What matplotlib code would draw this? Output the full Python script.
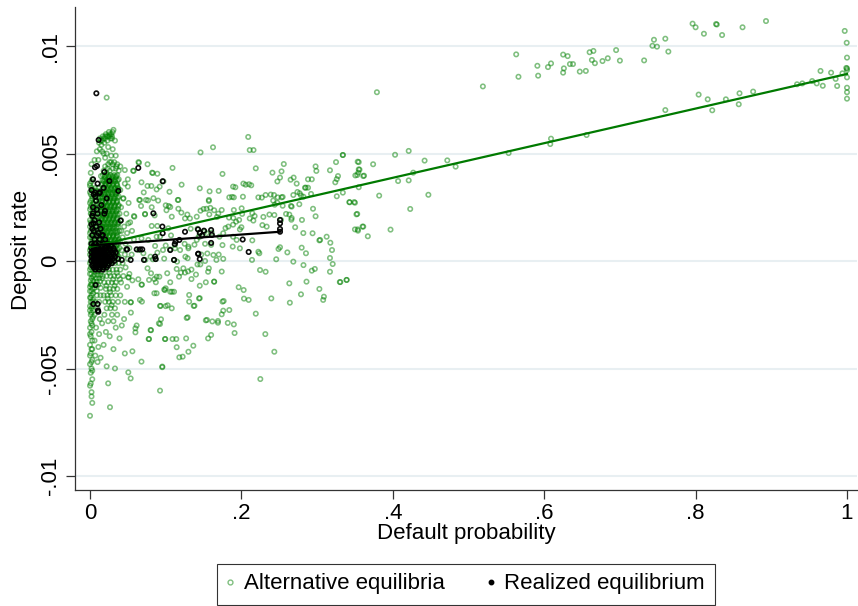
import matplotlib
matplotlib.use("Agg")
import matplotlib.pyplot as plt
from matplotlib.lines import Line2D

plt.rcParams['font.family'] = ['Liberation Sans', 'DejaVu Sans']

# ---------------- data ----------------
x_ticks = [0, 0.2, 0.4, 0.6, 0.8, 1.0]
x_tick_labels = ['0', '.2', '.4', '.6', '.8', '1']
y_ticks = [-0.01, -0.005, 0, 0.005, 0.01]
y_tick_labels = ['-.01', '-.005', '0', '.005', '.01']

# Alternative equilibria, right part (x > 0.33)
alt_right = [
    (0.563, 0.00961), (0.566, 0.00857), (0.591, 0.00908), (0.592, 0.00862), (0.605, 0.00902),
    (0.609, 0.00919), (0.625, 0.00960), (0.631, 0.00953), (0.626, 0.00896), (0.625, 0.00876),
    (0.634, 0.00916), (0.638, 0.00916), (0.647, 0.00881), (0.655, 0.00884), (0.660, 0.00971),
    (0.665, 0.00977), (0.663, 0.00935), (0.667, 0.00920), (0.677, 0.00930), (0.684, 0.00943),
    (0.695, 0.00981), (0.700, 0.00932), (0.732, 0.00933), (0.743, 0.01001), (0.745, 0.01029),
    (0.749, 0.00997), (0.760, 0.01034), (0.764, 0.00974), (0.796, 0.01104), (0.800, 0.01087),
    (0.811, 0.01057), (0.827, 0.01102), (0.828, 0.01100), (0.835, 0.01051), (0.862, 0.01087),
    (0.893, 0.01116), (0.997, 0.01070), (0.9996, 0.01015), (1.0, 0.00946), (1.0, 0.00896),
    (0.999, 0.00898), (1.0, 0.00888), (1.0, 0.00854), (1.0, 0.00806), (1.0, 0.00785),
    (1.0, 0.00755), (0.760, 0.00702), (0.804, 0.00774), (0.816, 0.00752), (0.822, 0.00701),
    (0.840, 0.00752), (0.857, 0.00729), (0.858, 0.00780), (0.876, 0.00788), (0.934, 0.00822),
    (0.941, 0.00826), (0.954, 0.00837), (0.960, 0.00826), (0.965, 0.00884), (0.968, 0.00815),
    (0.979, 0.00876), (0.985, 0.00847), (0.987, 0.00814), (0.994, 0.00873), (0.519, 0.00812),
    (0.379, 0.00785), (0.553, 0.00502), (0.608, 0.00544), (0.609, 0.00569), (0.656, 0.00586),
    (0.334, 0.00493), (0.403, 0.00494), (0.421, 0.00512), (0.355, 0.00460), (0.374, 0.00450),
    (0.442, 0.00467), (0.472, 0.00468), (0.483, 0.00439), (0.356, 0.00425), (0.353, 0.00400),
    (0.362, 0.00397), (0.427, 0.00411), (0.407, 0.00372), (0.421, 0.00375), (0.355, 0.00343),
    (0.334, 0.00318), (0.382, 0.00304), (0.447, 0.00308), (0.343, 0.00273), (0.350, 0.00271),
    (0.423, 0.00242), (0.353, 0.00219), (0.350, 0.00147), (0.354, 0.00141), (0.361, 0.00160),
    (0.367, 0.00115), (0.397, 0.00146), (0.330, -0.00098), (0.339, -0.00088),
    (0.355, 0.00426), (0.361, 0.00395), (0.360, 0.00160),
]

# Alternative equilibria, middle part above zero
alt_mid_upper = [
    (0.209, 0.00577), (0.146, 0.00505), (0.1625, 0.00529), (0.211, 0.00516), (0.216, 0.00516),
    (0.3536, 0.00462), (0.334, 0.00493), (0.325, 0.00460), (0.256, 0.00451), (0.219, 0.00431),
    (0.175, 0.00405), (0.109, 0.00433), (0.076, 0.00450), (0.0647, 0.00457), (0.057, 0.00420),
    (0.068, 0.00366), (0.083, 0.00409), (0.089, 0.00406), (0.097, 0.00370), (0.076, 0.00349),
    (0.081, 0.00349), (0.088, 0.00333), (0.092, 0.00346), (0.121, 0.00355), (0.145, 0.00338),
    (0.158, 0.00324), (0.170, 0.00326), (0.189, 0.00346), (0.192, 0.00343), (0.2026, 0.00360),
    (0.210, 0.00357), (0.213, 0.00352), (0.241, 0.00411), (0.253, 0.00417), (0.251, 0.00388),
    (0.265, 0.00378), (0.269, 0.00388), (0.288, 0.00380), (0.293, 0.00380), (0.298, 0.00440),
    (0.299, 0.00419), (0.317, 0.00422), (0.326, 0.00381), (0.324, 0.00366), (0.3505, 0.00398),
    (0.3545, 0.00411), (0.285, 0.00341), (0.288, 0.00341), (0.273, 0.00360), (0.243, 0.00307),
    (0.232, 0.00307), (0.248, 0.00296), (0.2545, 0.00298), (0.227, 0.00295), (0.202, 0.00299),
    (0.184, 0.00296), (0.1876, 0.00298), (0.157, 0.00284), (0.105, 0.00322), (0.0766, 0.00282),
    (0.066, 0.00284), (0.071, 0.00319), (0.058, 0.00209), (0.0727, 0.00217), (0.0854, 0.00212),
    (0.0674, 0.00256), (0.090, 0.00281), (0.100, 0.00259), (0.106, 0.00251), (0.101, 0.00236),
    (0.1167, 0.00243), (0.116, 0.00284), (0.1207, 0.00225), (0.1286, 0.00216), (0.141, 0.00206),
    (0.146, 0.00234), (0.154, 0.00243), (0.159, 0.00247), (0.164, 0.00236), (0.1695, 0.00220),
    (0.1576, 0.00217), (0.1678, 0.00205), (0.1836, 0.00202), (0.1893, 0.00200), (0.190, 0.00237),
    (0.201, 0.00219), (0.2144, 0.00222), (0.2175, 0.00209), (0.229, 0.00205), (0.237, 0.00216),
    (0.244, 0.00262), (0.2475, 0.00271), (0.2545, 0.00257), (0.2655, 0.00256), (0.2765, 0.00264),
    (0.2946, 0.00243), (0.2633, 0.00216), (0.2664, 0.00200), (0.271, 0.00157), (0.280, 0.00191),
    (0.298, 0.00208), (0.2818, 0.00130), (0.303, 0.00096), (0.3175, 0.00085), (0.3197, 0.00051),
    (0.3126, 0.00113), (0.3426, 0.00274), (0.349, 0.00274), (0.352, 0.00217), (0.3536, 0.00147),
    (0.326, 0.00301), (0.282, 0.00299), (0.277, 0.00315), (0.189, 0.00169), (0.200, 0.00157),
    (0.1827, 0.00160), (0.189, 0.00113), (0.1937, 0.00098), (0.176, 0.00129), (0.175, 0.00074),
    (0.171, 0.00113), (0.1607, 0.00132), (0.154, 0.00129), (0.1457, 0.00132), (0.151, 0.00136),
    (0.1435, 0.00113), (0.141, 0.00098), (0.138, 0.00076), (0.130, 0.00059), (0.119, 0.00051),
    (0.1123, 0.00059), (0.1057, 0.00054), (0.0964, 0.00051), (0.089, 0.00039), (0.080, 0.00020),
    (0.107, 0.00119), (0.0925, 0.00113), (0.088, 0.00113), (0.077, 0.00098), (0.068, 0.00105),
    (0.0555, 0.00140), (0.0643, 0.00051), (0.0705, 0.00036), (0.073, 0.00005), (0.083, 0.00008),
    (0.087, 0.00009), (0.098, 0.00011), (0.111, 0.00005), (0.126, 0.00020), (0.130, 0.00067),
    (0.2475, 0.00370), (0.2056, 0.00355), (0.3276, 0.00395), (0.190, 0.00296), (0.2224, 0.00296),
    (0.2387, 0.00309), (0.242, 0.00281), (0.253, 0.00296), (0.2686, 0.00307), (0.274, 0.00321),
    (0.2787, 0.00305), (0.284, 0.00341), (0.292, 0.00312), (0.2664, 0.00253), (0.259, 0.00219),
    (0.266, 0.00192), (0.2523, 0.00191), (0.2435, 0.00214), (0.294, 0.00129), (0.304, 0.00098),
    (0.251, 0.00064), (0.2796, 0.00062), (0.2853, 0.00036), (0.2224, 0.00043), (0.2144, 0.00096),
    (0.2277, 0.00167), (0.2334, 0.00160), (0.211, 0.00198), (0.2158, 0.00188), (0.193, 0.00183),
    (0.197, 0.00191), (0.2003, 0.00245), (0.198, 0.00147), (0.198, 0.00059), (0.1885, 0.00067),
    (0.179, 0.00153), (0.174, 0.00237),
    (0.064, 0.00460), (0.046, 0.00423), (0.0577, 0.00419), (0.082, 0.00411), (0.050, 0.00380),
    (0.050, 0.00346), (0.044, 0.00292), (0.065, 0.00284), (0.074, 0.00284), (0.0838, 0.00292),
    (0.0815, 0.00250), (0.0727, 0.00219), (0.0586, 0.00206), (0.0506, 0.00175), (0.104, 0.00256),
    (0.1167, 0.00284), (0.108, 0.00206), (0.0815, 0.00163), (0.089, 0.00163), (0.1035, 0.00152),
    (0.1255, 0.00198), (0.132, 0.00198), (0.150, 0.00242), (0.157, 0.00279), (0.133, 0.00150),
    (0.142, 0.00150), (0.145, 0.00113), (0.152, 0.00080), (0.160, 0.00075), (0.086, 0.00070),
    (0.100, 0.00072), (0.112, 0.00075), (0.125, 0.00080), (0.147, 0.00030), (0.155, 0.00035),
    (0.163, 0.00028), (0.170, 0.00030),
]

# Alternative equilibria, middle part below zero
alt_mid_lower = [
    (0.051, -0.00076), (0.068, -0.00110), (0.078, -0.00088), (0.088, -0.00073), (0.102, -0.00057),
    (0.106, -0.00099), (0.1145, -0.00037), (0.120, -0.00054), (0.1295, -0.00048), (0.134, -0.00084),
    (0.145, -0.00115), (0.153, -0.00099), (0.164, -0.00096), (0.156, -0.00050), (0.142, -0.00016),
    (0.1255, -0.00054), (0.115, -0.00003), (0.087, -0.00099), (0.088, -0.00150), (0.066, -0.00181),
    (0.0537, -0.00192), (0.060, -0.00313), (0.060, -0.00332), (0.080, -0.00321), (0.0775, -0.00363),
    (0.091, -0.00290), (0.0933, -0.00209), (0.1026, -0.00206), (0.108, -0.00220), (0.111, -0.00143),
    (0.098, -0.00133), (0.131, -0.00158), (0.131, -0.00189), (0.138, -0.00208), (0.144, -0.00174),
    (0.1766, -0.00186), (0.176, -0.00231), (0.184, -0.00228), (0.174, -0.00248), (0.1545, -0.00274),
    (0.1616, -0.00281), (0.169, -0.00279), (0.182, -0.00288), (0.190, -0.00295), (0.191, -0.00335),
    (0.160, -0.00344), (0.156, -0.00360), (0.1277, -0.00265), (0.1365, -0.00394), (0.127, -0.00360),
    (0.114, -0.00363), (0.0995, -0.00363), (0.118, -0.00448), (0.1224, -0.00445), (0.130, -0.00422),
    (0.0925, -0.00603), (0.0955, -0.00491), (0.225, -0.00549), (0.2435, -0.00422), (0.2316, -0.00340),
    (0.219, -0.00245), (0.2034, -0.00175), (0.2096, -0.00181), (0.1964, -0.00122), (0.203, -0.00135),
    (0.2395, -0.00174), (0.264, -0.00194), (0.2633, -0.00104), (0.2787, -0.00155), (0.286, -0.00096),
    (0.303, -0.00130), (0.293, -0.00045), (0.297, -0.00037), (0.309, -0.00166), (0.308, -0.00181),
    (0.317, -0.00050), (0.317, 0.00014), (0.3206, -0.00014), (0.3307, -0.00098), (0.339, -0.00088),
    (0.282, -0.00019), (0.2686, -0.00003), (0.246, 0.00008), (0.232, -0.00050), (0.2246, -0.00042),
    (0.249, 0.00056), (0.2607, 0.00040), (0.2237, 0.00036), (0.214, 0.00005),
    (0.0506, -0.00076), (0.0638, -0.00085), (0.0686, -0.00110), (0.085, -0.00150), (0.0916, -0.00073),
    (0.099, -0.00135), (0.1083, -0.00143), (0.145, -0.00173), (0.175, -0.00189), (0.054, -0.00192),
    (0.0686, -0.00189), (0.0925, -0.00209), (0.100, -0.00210), (0.129, -0.00262), (0.137, -0.00209),
    (0.153, -0.00276), (0.169, -0.00287), (0.0938, -0.00271), (0.0925, -0.00293), (0.0806, -0.00322),
    (0.078, -0.00363), (0.099, -0.00363), (0.109, -0.00363), (0.1145, -0.00401), (0.0955, -0.00494),
    (0.068, -0.00468), (0.0506, -0.00518), (0.0537, -0.00546), (0.024, -0.00569), (0.0264, -0.00680),
    (0.076, -0.00034), (0.0806, -0.00057), (0.085, -0.00084), (0.100, -0.00127), (0.106, -0.00143),
    (0.1176, -0.00073), (0.1233, -0.00034), (0.129, 0.00013), (0.134, -0.00040), (0.140, -0.00063),
    (0.1457, -0.00016), (0.152, 0.00000), (0.157, -0.00034), (0.164, -0.00096), (0.174, -0.00049),
    (0.167, 0.00005), (0.176, 0.00010), (0.0616, -0.00300), (0.056, -0.00420), (0.045, -0.00270),
]

# Alternative equilibria: the thin column next to zero default probability
alt_left_column = [
    (0.001, 0.0041), (0.003, 0.0038), (0.000, 0.0036), (0.002, 0.0034), (0.004, 0.0033),
    (0.001, 0.0031), (0.003, 0.0029), (0.000, 0.0027), (0.002, 0.0026), (0.004, 0.0024),
    (0.001, 0.0022), (0.003, 0.0021), (0.000, 0.0019), (0.002, 0.0017), (0.004, 0.0016),
    (0.001, 0.0014), (0.003, 0.0012), (0.000, 0.0011), (0.002, 0.0009), (0.004, 0.0008),
    (0.001, 0.0006), (0.003, 0.0004), (0.000, 0.0003), (0.002, 0.0001), (0.004, -0.0001),
    (0.001, -0.0003), (0.003, -0.0004), (0.000, -0.0006), (0.002, -0.0008), (0.004, -0.0009),
    (0.001, -0.0011), (0.003, -0.0013), (0.000, -0.0014), (0.002, -0.0016), (0.004, -0.0018),
    (0.001, -0.0019), (0.003, -0.0021), (0.000, -0.0023), (0.002, -0.0024), (0.004, -0.0026),
    (0.001, -0.0028), (0.003, -0.0030), (0.000, -0.0031), (0.002, -0.0033), (0.001, -0.0035),
    (0.003, -0.0037), (0.000, -0.0039), (0.002, -0.0041), (0.001, -0.0043), (0.003, -0.0046),
    (0.000, -0.0048), (0.002, -0.0050), (0.001, -0.0052), (0.003, -0.0055), (0.001, -0.0057),
    (0.000, -0.0058), (0.002, -0.0061), (0.002, -0.0063), (0.003, -0.0066), (0.000, -0.0072),
    (0.002, 0.0037), (0.000, 0.0032), (0.003, 0.0030), (0.001, 0.0028), (0.004, 0.0027),
    (0.000, 0.0024), (0.002, 0.0022), (0.004, 0.0020), (0.001, 0.0018), (0.003, 0.0015),
    (0.000, 0.0013), (0.002, 0.0011), (0.004, 0.0010), (0.001, 0.0008), (0.003, 0.0006),
    (0.000, 0.0005), (0.002, 0.0003), (0.004, 0.0002), (0.001, 0.0000), (0.003, -0.0002),
    (0.000, -0.0004), (0.002, -0.0006), (0.004, -0.0007), (0.001, -0.0009), (0.003, -0.0011),
    (0.000, -0.0012), (0.002, -0.0014), (0.004, -0.0015), (0.001, -0.0017), (0.003, -0.0019),
    (0.000, -0.0021), (0.002, -0.0022), (0.004, -0.0023), (0.001, -0.0025), (0.003, -0.0027),
    (0.000, 0.0035), (0.003, 0.0033), (0.001, 0.0025), (0.003, 0.0018), (0.000, 0.0016),
    (0.002, 0.0006), (0.000, -0.0001), (0.002, -0.0011), (0.000, -0.0017), (0.002, -0.0029),
    (0.000, -0.0034), (0.003, -0.0041), (0.000, -0.0044), (0.002, -0.0047), (0.003, -0.0051),
]

# Alternative equilibria: the small knob near the top of the tower and its surroundings
alt_knob = [
    (0.012, 0.0055), (0.014, 0.0056), (0.016, 0.0056), (0.018, 0.0057), (0.020, 0.0057),
    (0.022, 0.0058), (0.024, 0.0058), (0.026, 0.0058), (0.028, 0.0059), (0.030, 0.0060),
    (0.031, 0.0061), (0.015, 0.0054), (0.019, 0.0055), (0.023, 0.0056), (0.027, 0.0057),
    (0.029, 0.0057), (0.025, 0.0060), (0.021, 0.0059), (0.017, 0.0058), (0.033, 0.0056),
    (0.013, 0.0052), (0.009, 0.0051), (0.018, 0.0050), (0.024, 0.0053), (0.030, 0.0052),
    (0.006, 0.0047), (0.011, 0.0047), (0.020, 0.0048), (0.026, 0.0046), (0.034, 0.0049),
    (0.002, 0.0045), (0.016, 0.0051), (0.022, 0.0050), (0.028, 0.0049), (0.022, 0.0076),
    (0.020, 0.0044), (0.024, 0.0045), (0.028, 0.0046), (0.032, 0.0046), (0.036, 0.0045),
    (0.040, 0.0044), (0.038, 0.0042), (0.034, 0.0043), (0.030, 0.0043), (0.026, 0.0042),
    (0.022, 0.0041), (0.018, 0.0042), (0.013, 0.0057), (0.020, 0.0058), (0.026, 0.0059),
    (0.029, 0.0058), (0.030, 0.0045), (0.035, 0.0044), (0.023, 0.0043),
]

# Alternative equilibria: the dense tower (rows of equal deposit rate)
alt_tower_y = [0.0040, 0.0039, 0.0038, 0.0037, 0.0036, 0.0035, 0.0034, 0.0033, 0.0032, 0.0031,
               0.0030, 0.0029, 0.0028, 0.0027, 0.0026, 0.0025, 0.0024, 0.0023, 0.0022, 0.0021,
               0.0020, 0.0019, 0.0018, 0.0017, 0.0016, 0.0015, 0.0014, 0.0013, 0.0012, 0.0011,
               0.0010, 0.0009, 0.0008, 0.0007, 0.0006, 0.0005, 0.0004, 0.0003, 0.0002]
alt_tower_x = [
    [0.017, 0.022, 0.027, 0.032, 0.036], [0.020, 0.025, 0.030, 0.034],
    [0.019, 0.024, 0.029, 0.034, 0.038], [0.018, 0.023, 0.028, 0.033],
    [0.016, 0.021, 0.026, 0.031, 0.035], [0.019, 0.024, 0.029, 0.036],
    [0.018, 0.023, 0.028, 0.033, 0.037], [0.020, 0.025, 0.030, 0.035],
    [0.017, 0.022, 0.027, 0.032, 0.036], [0.019, 0.024, 0.029, 0.034],
    [0.019, 0.024, 0.029, 0.034, 0.038], [0.017, 0.022, 0.027, 0.032],
    [0.016, 0.021, 0.026, 0.031, 0.036], [0.020, 0.025, 0.030, 0.035],
    [0.018, 0.023, 0.028, 0.033, 0.038], [0.016, 0.021, 0.026, 0.031],
    [0.017, 0.022, 0.027, 0.032, 0.037], [0.020, 0.025, 0.030, 0.035],
    [0.019, 0.024, 0.029, 0.034, 0.039], [0.017, 0.022, 0.027, 0.032],
    [0.016, 0.021, 0.026, 0.031, 0.036], [0.019, 0.024, 0.029, 0.034],
    [0.018, 0.023, 0.028, 0.033, 0.038], [0.020, 0.025, 0.030, 0.036],
    [0.017, 0.022, 0.027, 0.032, 0.037], [0.016, 0.021, 0.026, 0.031],
    [0.019, 0.024, 0.029, 0.034, 0.039], [0.018, 0.023, 0.028, 0.035],
    [0.016, 0.021, 0.026, 0.031, 0.036], [0.020, 0.025, 0.030, 0.034],
    [0.018, 0.023, 0.028, 0.033, 0.038], [0.016, 0.021, 0.026, 0.031],
    [0.017, 0.022, 0.027, 0.032, 0.037], [0.019, 0.024, 0.029, 0.035],
    [0.019, 0.024, 0.029, 0.034, 0.039], [0.017, 0.022, 0.027, 0.032],
    [0.016, 0.021, 0.026, 0.031, 0.036], [0.020, 0.025, 0.030, 0.035],
    [0.018, 0.023, 0.028, 0.033, 0.038],
]
# second, offset pass over the tower (it is nearly solid in the picture)
alt_tower2_y = [0.00395, 0.00375, 0.00355, 0.00335, 0.00315, 0.00295, 0.00275, 0.00255,
                0.00235, 0.00215, 0.00195, 0.00175, 0.00155, 0.00135, 0.00115, 0.00095,
                0.00075, 0.00055, 0.00035, 0.00015]
alt_tower2_x = [
    [0.0145, 0.0195, 0.0245, 0.0295, 0.0345], [0.0165, 0.0215, 0.0265, 0.0315, 0.0365],
    [0.0155, 0.0205, 0.0255, 0.0305, 0.0355], [0.0175, 0.0225, 0.0275, 0.0325, 0.0375],
    [0.0145, 0.0195, 0.0245, 0.0295, 0.0345], [0.0165, 0.0215, 0.0265, 0.0315, 0.0365],
    [0.0155, 0.0205, 0.0255, 0.0305, 0.0355], [0.0175, 0.0225, 0.0275, 0.0325, 0.0375],
    [0.0145, 0.0195, 0.0245, 0.0295, 0.0345], [0.0165, 0.0215, 0.0265, 0.0315, 0.0365],
    [0.0155, 0.0205, 0.0255, 0.0305, 0.0355], [0.0175, 0.0225, 0.0275, 0.0325, 0.0375],
    [0.0145, 0.0195, 0.0245, 0.0295, 0.0345], [0.0165, 0.0215, 0.0265, 0.0315, 0.0365],
    [0.0155, 0.0205, 0.0255, 0.0305, 0.0355], [0.0175, 0.0225, 0.0275, 0.0325, 0.0375],
    [0.0145, 0.0195, 0.0245, 0.0295, 0.0345], [0.0165, 0.0215, 0.0265, 0.0315, 0.0365],
    [0.0155, 0.0205, 0.0255, 0.0305, 0.0355], [0.0175, 0.0225, 0.0275, 0.0325, 0.0375],
]

# Alternative equilibria: between the thin column and the tower (rows)
alt_between_y = [0.0034, 0.00325, 0.0031, 0.00295, 0.0028, 0.00265, 0.0025, 0.00235, 0.0022,
                 0.00205, 0.0019, 0.00175, 0.0016, 0.00145, 0.0013, 0.00115, 0.0010, 0.00085,
                 0.0007, 0.00055, 0.0004, 0.00025, 0.0001, -0.00005, -0.0002, -0.00035,
                 -0.0005, -0.00065, -0.0008, -0.00095, -0.0011, -0.00125, -0.0014]
alt_between_x = [
    [0.007, 0.011], [0.005, 0.009, 0.013], [0.007, 0.011, 0.015], [0.006, 0.010, 0.014],
    [0.008, 0.012, 0.016], [0.005, 0.009, 0.013], [0.007, 0.011, 0.015], [0.006, 0.010, 0.014],
    [0.008, 0.012, 0.016], [0.005, 0.009, 0.013], [0.007, 0.011, 0.015], [0.006, 0.010, 0.014],
    [0.008, 0.012, 0.016], [0.005, 0.009, 0.013], [0.007, 0.011, 0.015], [0.006, 0.010, 0.014],
    [0.008, 0.012, 0.016], [0.005, 0.009, 0.013], [0.007, 0.011, 0.015], [0.006, 0.010, 0.014],
    [0.008, 0.012, 0.016], [0.005, 0.009, 0.013], [0.007, 0.011, 0.015], [0.006, 0.010, 0.014],
    [0.008, 0.012, 0.016], [0.005, 0.009, 0.013], [0.007, 0.011, 0.015], [0.006, 0.010, 0.014],
    [0.008, 0.012, 0.016], [0.005, 0.009, 0.013], [0.007, 0.011], [0.006, 0.014], [0.009],
]
alt_between = [
    (0.009, -0.0016), (0.014, -0.0016), (0.007, -0.0019), (0.012, -0.0019),
    (0.010, -0.0022), (0.006, -0.0025), (0.013, -0.0027), (0.008, -0.0031), (0.012, -0.0034),
    (0.006, -0.0037), (0.011, -0.0040), (0.007, -0.0044), (0.014, -0.0045),
]

# Alternative equilibria: blob just below zero and its right fringe
alt_blob = [
    (0.018, -0.0001), (0.023, -0.0001), (0.028, -0.0001), (0.033, -0.0001), (0.038, -0.0001),
    (0.043, -0.0001), (0.020, -0.0004), (0.025, -0.0004), (0.030, -0.0004), (0.035, -0.0004),
    (0.040, -0.0004), (0.017, -0.0007), (0.022, -0.0007), (0.027, -0.0007), (0.032, -0.0007),
    (0.037, -0.0007), (0.044, -0.0007), (0.019, -0.0010), (0.024, -0.0010), (0.029, -0.0010),
    (0.034, -0.0010), (0.041, -0.0010), (0.021, -0.0013), (0.026, -0.0013), (0.031, -0.0013),
    (0.036, -0.0013), (0.018, -0.0016), (0.023, -0.0016), (0.028, -0.0016), (0.034, -0.0016),
    (0.040, -0.0016), (0.020, -0.0019), (0.025, -0.0019), (0.030, -0.0019), (0.037, -0.0019),
    (0.022, -0.0022), (0.027, -0.0022), (0.033, -0.0022), (0.019, -0.0025), (0.029, -0.0025),
    (0.036, -0.0025), (0.024, -0.0028), (0.031, -0.0028), (0.016, -0.0029), (0.021, -0.0033),
    (0.034, -0.0031), (0.042, -0.0030), (0.026, -0.0035), (0.039, -0.0036), (0.018, -0.0039),
    (0.031, -0.0041), (0.046, -0.0043), (0.010, -0.0047), (0.022, -0.0049), (0.033, -0.0050),
    (0.041, 0.0019), (0.045, 0.0016), (0.049, 0.0013), (0.043, 0.0011), (0.047, 0.0008),
    (0.052, 0.0006), (0.042, 0.0005), (0.046, 0.0003), (0.050, 0.0001), (0.055, 0.0003),
    (0.041, 0.0025), (0.044, 0.0029), (0.048, 0.0022), (0.053, 0.0018), (0.058, 0.0010),
    (0.040, 0.0033), (0.046, 0.0036), (0.051, 0.0027), (0.047, -0.0003), (0.052, -0.0006),
    (0.049, -0.0012), (0.056, -0.0009), (0.046, -0.0019), (0.054, -0.0024),
    (0.0205, -0.00025), (0.0255, -0.00055), (0.0305, -0.00085), (0.0355, -0.00055),
    (0.0215, -0.00115), (0.0265, -0.00145), (0.0325, -0.00115), (0.0395, -0.00085),
    (0.0235, -0.00175), (0.0285, -0.00205), (0.0415, 0.0014), (0.0395, 0.0009),
]

# Realized equilibrium: dense black cluster around zero deposit rate (rows)
real_rows_y = [0.0012, 0.0010, 0.0008, 0.0007, 0.0006, 0.0005, 0.0004, 0.0003, 0.0002,
               0.0001, 0.0000, -0.0001, -0.0002, -0.0003, -0.0004]
real_rows_x = [
    [0.003, 0.009, 0.017],
    [0.006, 0.013, 0.020],
    [0.002, 0.007, 0.012, 0.018, 0.024],
    [0.004, 0.010, 0.016, 0.022, 0.028],
    [0.002, 0.006, 0.011, 0.015, 0.020, 0.025, 0.031],
    [0.004, 0.008, 0.013, 0.017, 0.022, 0.027, 0.032],
    [0.002, 0.006, 0.010, 0.015, 0.019, 0.024, 0.029, 0.034],
    [0.004, 0.008, 0.012, 0.017, 0.021, 0.026, 0.031],
    [0.002, 0.006, 0.010, 0.014, 0.019, 0.023, 0.028, 0.033],
    [0.004, 0.008, 0.012, 0.016, 0.021, 0.025, 0.030, 0.037],
    [0.002, 0.006, 0.010, 0.014, 0.018, 0.023, 0.027, 0.032],
    [0.004, 0.008, 0.012, 0.016, 0.020, 0.025, 0.029],
    [0.003, 0.007, 0.011, 0.015, 0.019, 0.024],
    [0.005, 0.009, 0.013, 0.018, 0.022],
    [0.007, 0.012, 0.017],
]
real_other = [
    (0.002, 0.0033), (0.005, 0.0031), (0.008, 0.0028), (0.004, 0.0025), (0.010, 0.0022),
    (0.003, 0.0021), (0.006, 0.0019), (0.012, 0.0018), (0.002, 0.0017), (0.008, 0.0016),
    (0.005, 0.0014), (0.011, 0.0013), (0.003, 0.0015), (0.014, 0.0015), (0.007, 0.0030),
    (0.013, 0.0032), (0.018, 0.0034), (0.010, 0.0036), (0.004, 0.0038), (0.015, 0.0026),
    (0.019, 0.0022), (0.009, 0.0024), (0.016, 0.0012),
    (0.0084, 0.0078), (0.0114, 0.00563), (0.0066, 0.00436), (0.0092, 0.00442), (0.019, 0.00414),
    (0.0255, 0.00372), (0.0638, 0.00433), (0.096, 0.00371), (0.0837, 0.00222), (0.0374, 0.00326),
    (0.0066, 0.00318), (0.0123, 0.00315), (0.004, 0.00222), (0.0044, 0.00175), (0.0198, 0.00233),
    (0.022, 0.00291), (0.0405, 0.00188), (0.0956, 0.00160), (0.096, 0.00129), (0.106, 0.00051),
    (0.112, 0.00079), (0.113, 0.00090), (0.118, 0.00098), (0.1255, 0.00136), (0.1427, 0.00147),
    (0.145, 0.00131), (0.148, 0.00119), (0.1506, 0.00141), (0.160, 0.00144), (0.161, 0.00121),
    (0.160, 0.00084), (0.143, 0.00034), (0.145, 0.00009), (0.2017, 0.00100), (0.2096, 0.00042),
    (0.251, 0.00191), (0.251, 0.00175), (0.251, 0.00149), (0.251, 0.00136), (0.111, 0.00005),
    (0.0867, 0.00009), (0.0713, 0.00005), (0.066, 0.00054), (0.069, 0.00054), (0.0537, 0.00005),
    (0.0484, 0.00054), (0.042, 0.00005), (0.0075, -0.00112), (0.0044, -0.00200),
    (0.0101, -0.00200), (0.011, -0.00236), (0.0105, -0.00230), (0.049, 0.00054), (0.0617, 0.00054),
    (0.086, 0.00020), (0.143, 0.00033),
]

# Linear fits
alt_fit_x = [0.0, 1.0]
alt_fit_y = [0.00065, 0.0087]
real_fit_x = [0.003, 0.251]
real_fit_y = [0.00073, 0.00136]

# ---------------- assemble ----------------
alt_pts = (alt_right + alt_mid_upper + alt_mid_lower + alt_left_column + alt_knob
           + alt_between + alt_blob)
for rows_y, rows_x in [(alt_tower_y, alt_tower_x), (alt_tower2_y, alt_tower2_x),
                       (alt_between_y, alt_between_x)]:
    for yy, xs in zip(rows_y, rows_x):
        alt_pts += [(xx, yy) for xx in xs]
alt_x = [p[0] for p in alt_pts]
alt_y = [p[1] for p in alt_pts]

real_pts = list(real_other)
for yy, xs in zip(real_rows_y, real_rows_x):
    real_pts += [(xx, yy) for xx in xs]
real_x = [p[0] for p in real_pts]
real_y = [p[1] for p in real_pts]

# ---------------- figure ----------------
W, H = 858, 606
fig = plt.figure(figsize=(W / 100, H / 100), dpi=100)
ax = fig.add_axes([75 / W, 1 - 490 / H, (857 - 75) / W, (490 - 7) / H])

ax.set_xlim(-15 / 757, 767 / 757)
ax.set_ylim(-229 / 21500, 254 / 21500)

for yt in y_ticks:
    ax.axhline(yt, color='#e8eff2', lw=1.5, zorder=0)

green = '#008000'
ax.scatter(alt_x, alt_y, s=10, facecolors='none', edgecolors=green, linewidths=1.15,
           alpha=0.5, zorder=2)
ax.scatter(real_x, real_y, s=10, facecolors='none', edgecolors='black', linewidths=1.2,
           alpha=0.95, zorder=3)
ax.plot(alt_fit_x, alt_fit_y, color='#007a00', lw=1.6, zorder=4)
ax.plot(real_fit_x, real_fit_y, color='black', lw=1.6, zorder=5)

for s in ['top', 'right']:
    ax.spines[s].set_visible(False)
for s in ['left', 'bottom']:
    ax.spines[s].set_color('#333333')
    ax.spines[s].set_linewidth(0.9)

ax.set_xticks(x_ticks)
ax.set_xticklabels(x_tick_labels)
ax.set_yticks(y_ticks)
ax.set_yticklabels(y_tick_labels, rotation=90, va='center')
ax.tick_params(axis='both', direction='out', length=6.5, width=0.9, color='#333333',
               labelsize=16)
ax.tick_params(axis='x', pad=3)
ax.tick_params(axis='y', pad=3.5)

fig.text(466 / W, 1 - 534 / H, 'Default probability', ha='center', va='center', fontsize=16)
fig.text(22 / W, 1 - 250 / H, 'Deposit rate', ha='center', va='center', rotation=90, fontsize=16)

handles = [
    Line2D([], [], linestyle='none', marker='o', markersize=3.5, markerfacecolor='none',
           markeredgecolor=green, markeredgewidth=1.0, alpha=0.5),
    Line2D([], [], linestyle='none', marker='o', markersize=3.2, markerfacecolor='black',
           markeredgecolor='black'),
]
leg = fig.legend(handles, ['Alternative equilibria', 'Realized equilibrium'],
                 loc='center', bbox_to_anchor=(466 / W, 1 - 584 / H), ncol=2,
                 fontsize=16, frameon=True, fancybox=False, handlelength=0.3,
                 handletextpad=0.47, columnspacing=1.9, borderpad=0.45)
leg.get_frame().set_edgecolor('black')
leg.get_frame().set_linewidth(0.8)

fig.savefig('out.png', dpi=100)
